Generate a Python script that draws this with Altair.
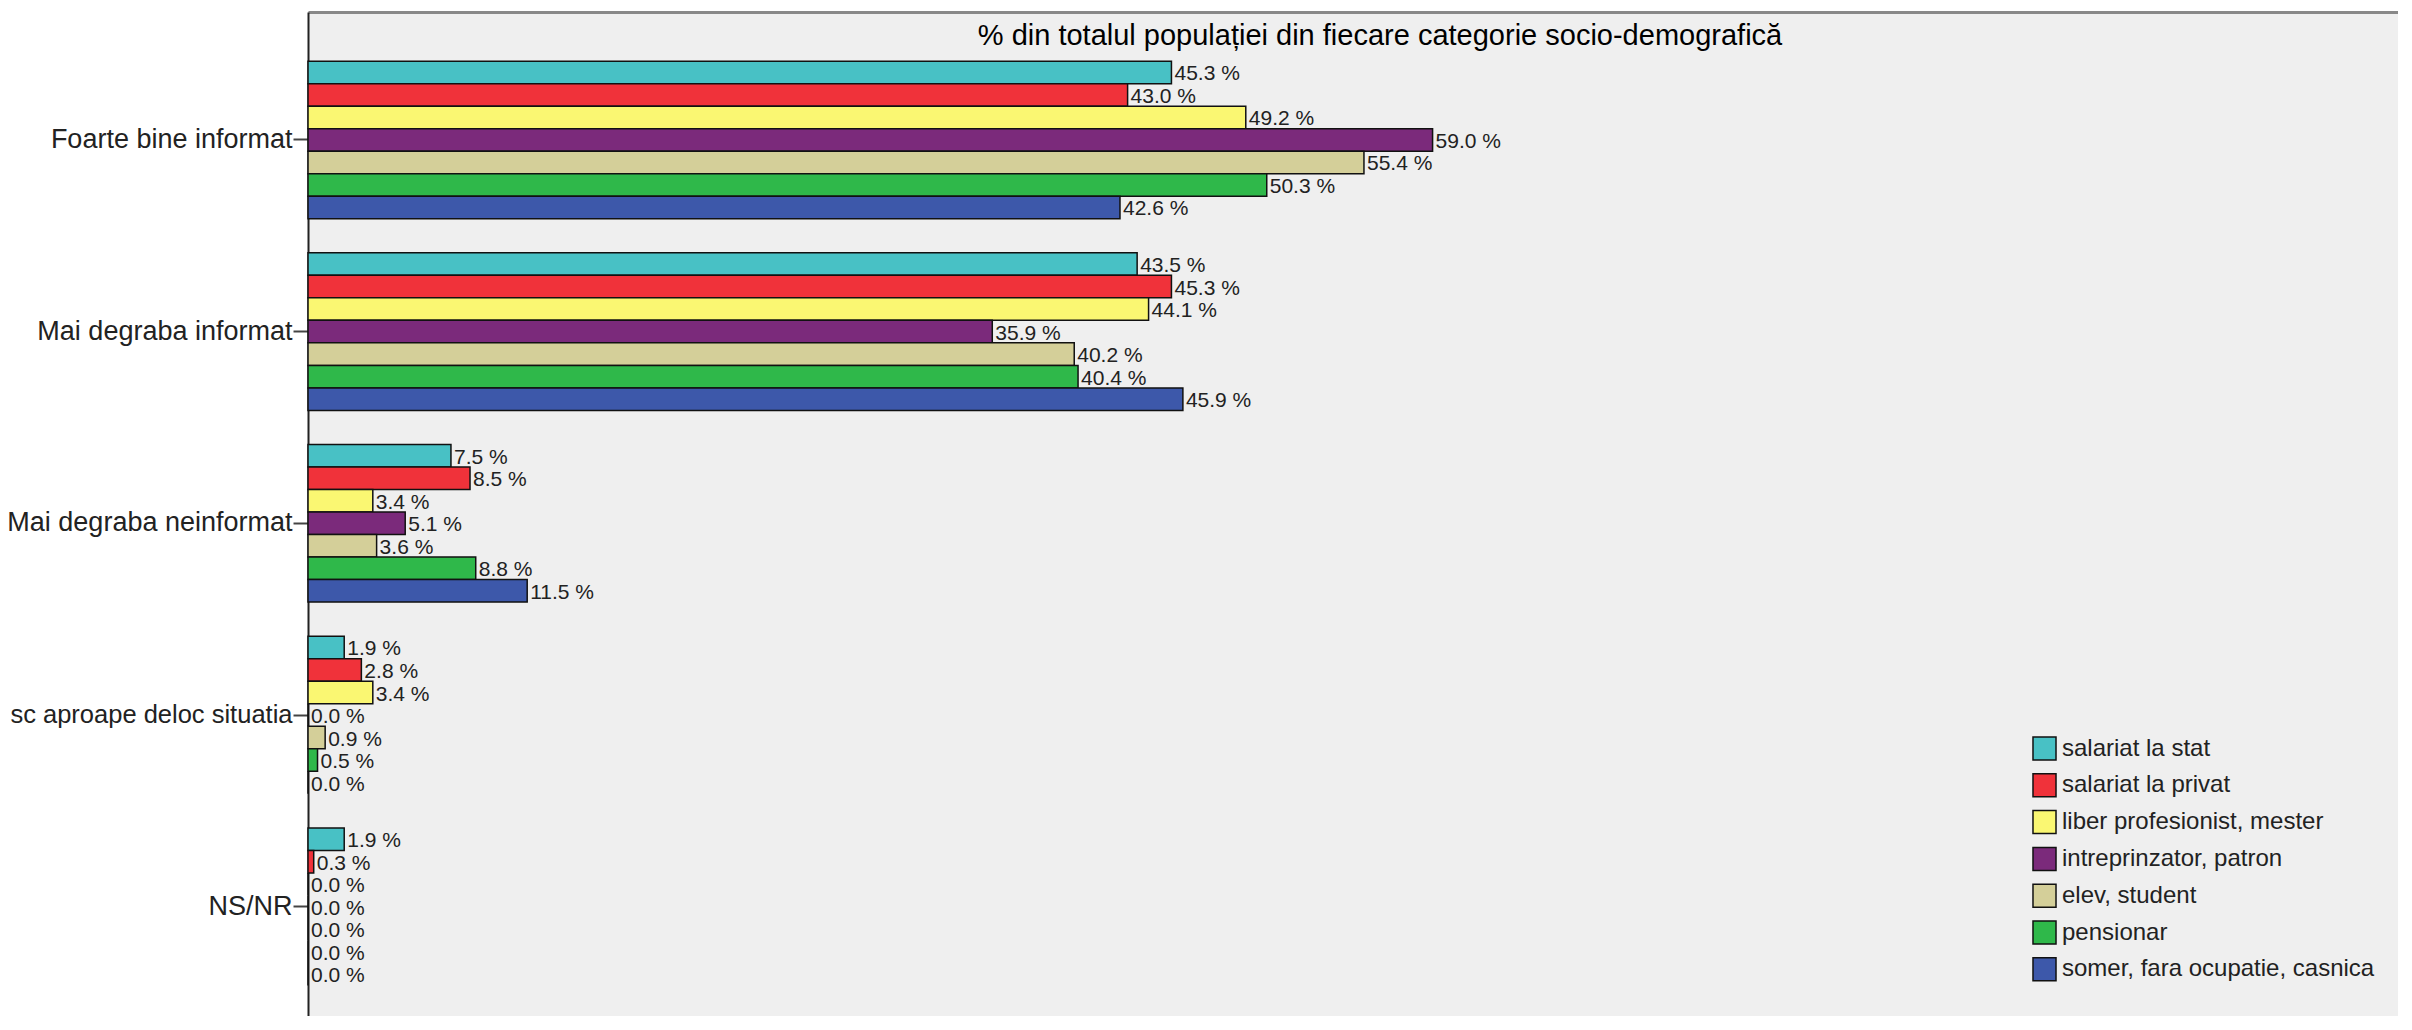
import altair as alt
import pandas as pd

# ---- data ----
responses = [
    "Foarte bine informat",
    "Mai degraba informat",
    "Mai degraba neinformat",
    "sc aproape deloc situatia",
    "NS/NR",
]
groups = [
    "salariat la stat",
    "salariat la privat",
    "liber profesionist, mester",
    "intreprinzator, patron",
    "elev, student",
    "pensionar",
    "somer, fara ocupatie, casnica",
]
colors = ["#48C1C5", "#F0323A", "#FAF772", "#7B2A7B", "#D4CF99", "#2FB84A", "#3D58AA"]

foarte_bine = [45.3, 43.0, 49.2, 59.0, 55.4, 50.3, 42.6]
mai_degraba_informat = [43.5, 45.3, 44.1, 35.9, 40.2, 40.4, 45.9]
mai_degraba_neinformat = [7.5, 8.5, 3.4, 5.1, 3.6, 8.8, 11.5]
nu_cunosc = [1.9, 2.8, 3.4, 0.0, 0.9, 0.5, 0.0]
ns_nr = [1.9, 0.3, 0.0, 0.0, 0.0, 0.0, 0.0]

subtitle = "% din totalul populației din fiecare categorie socio-demografică"

series = [foarte_bine, mai_degraba_informat, mai_degraba_neinformat, nu_cunosc, ns_nr]
rows = []
for resp, vals in zip(responses, series):
    for g, v in zip(groups, vals):
        rows.append({"raspuns": resp, "grup": g, "valoare": v})
df = pd.DataFrame(rows)

PLOT_W = 2090
PLOT_H = 1004

base = alt.Chart(df).transform_calculate(
    eticheta="format(datum.valoare, '.1f') + ' %'"
).encode(
    y=alt.Y(
        "raspuns:N",
        sort=responses,
        scale=alt.Scale(paddingInner=0.178, paddingOuter=0.2077, align=0.617),
        axis=alt.Axis(
            title=None,
            domainColor="#222222",
            domainWidth=2,
            tickColor="#444444",
            tickSize=15,
            tickWidth=2,
            labelFont="Liberation Sans",
            labelFontSize=alt.condition(
                "datum.value == 'sc aproape deloc situatia'", alt.value(25.5), alt.value(27)
            ),
            labelColor="#222222",
            labelPadding=1,
            labelLimit=600,
        ),
    ),
    yOffset=alt.YOffset("grup:N", sort=groups, scale=alt.Scale(paddingInner=0, paddingOuter=0)),
)

bars = base.mark_bar(stroke="#111111", strokeWidth=1.5).encode(
    x=alt.X(
        "valoare:Q",
        scale=alt.Scale(domain=[0, 109.65], nice=False),
        axis=alt.Axis(
            orient="top",
            labels=False,
            ticks=False,
            grid=False,
            title=None,
            domainColor="#888888",
            domainWidth=3,
            minExtent=0,
            maxExtent=0,
        ),
    ),
    color=alt.Color(
        "grup:N",
        sort=groups,
        scale=alt.Scale(domain=groups, range=colors),
        legend=alt.Legend(
            title=None,
            orient="none",
            legendX=1724,
            legendY=724,
            symbolType="square",
            symbolSize=530,
            symbolStrokeColor="#111111",
            symbolStrokeWidth=1.5,
            symbolOpacity=1,
            labelFont="Liberation Sans",
            labelFontSize=24,
            labelColor="#222222",
            labelOffset=5,
            rowPadding=5.8,
            padding=0,
            labelLimit=600,
        ),
    ),
)

labels = base.mark_text(
    align="left", baseline="middle", dx=3, dy=2, font="Liberation Sans", fontSize=21, color="#222222"
).encode(
    x=alt.X("valoare:Q"),
    text=alt.Text("eticheta:N"),
)

# subtitle drawn inside the plot frame, as in the SPSS original
subtitle_layer = alt.Chart(pd.DataFrame({"t": [subtitle]})).mark_text(
    align="center", baseline="alphabetic", font="Liberation Sans", fontSize=29, color="#000000"
).encode(
    x=alt.value(1072),
    y=alt.value(33),
    text="t:N",
)

chart = (
    alt.layer(bars, labels, subtitle_layer)
    .properties(
        width=PLOT_W,
        height=PLOT_H,
        autosize=alt.AutoSizeParams(type="none"),
        padding={"left": 300, "top": 4, "right": 0, "bottom": 0},
        background="#ffffff",
    )
    .configure_view(fill="#efefef", stroke=None)
)

chart.save("out.html", embed_options={"renderer": "svg", "actions": False})
